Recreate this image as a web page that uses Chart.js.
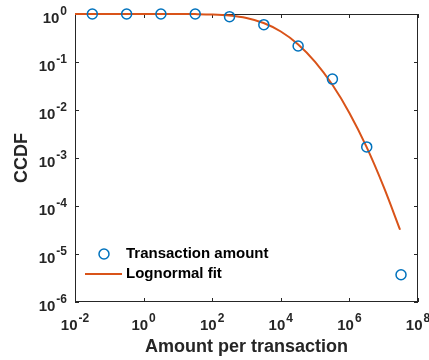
<!DOCTYPE html>
<html>
<head>
<meta charset="utf-8">
<script src="https://cdn.jsdelivr.net/npm/chart.js@4.4.0/dist/chart.umd.min.js"></script>
<style>
  body { margin: 0; background: #fff; }
  canvas { display: block; }
</style>
</head>
<body>
<canvas id="grafico" width="429" height="360"></canvas>
<script>
// datos
const amount = [0.032, 0.32, 3.2, 32, 320, 3200, 32000, 320000, 3200000, 32000000];
const ccdf = [1, 1, 1, 1, 0.88, 0.6, 0.215, 0.044, 0.0017, 3.7e-6];

const fitAmount = [0.01, 0.1, 1, 10, 31.6, 100, 316, 1000, 3160, 10000, 31600, 100000, 316000, 1000000, 3160000, 10000000, 30000000];
const fitCcdf = [1, 1, 1, 0.999, 0.995, 0.979, 0.931, 0.825, 0.648, 0.432, 0.235, 0.101, 0.0339, 0.0087, 0.0017, 0.00025, 0.000032];

const xTickExp = [-2, 0, 2, 4, 6, 8];
const yTickExp = [0, -1, -2, -3, -4, -5, -6];

const legendLabels = ["Transaction amount", "Lognormal fit"];
const xTitle = "Amount per transaction";
const yTitle = "CCDF";

const azul = "#0072BD";
const naranja = "#D95319";
const ejes = "#262626";
const fuente = "'Liberation Sans', Arial, sans-serif";

// dibuja "10" con exponente
function potencia(ctx, exp, x, yBase, align) {
  ctx.font = "bold 15px " + fuente;
  const wb = ctx.measureText("10").width;
  ctx.font = "bold 12px " + fuente;
  const e = String(exp);
  const we = ctx.measureText(e).width;
  const total = wb + 1 + we;
  let x0 = x;
  if (align === "right") x0 = x - total;
  if (align === "center") x0 = x - total / 2;
  ctx.textAlign = "left";
  ctx.textBaseline = "alphabetic";
  ctx.font = "bold 15px " + fuente;
  ctx.fillText("10", x0, yBase);
  ctx.font = "bold 12px " + fuente;
  ctx.fillText(e, x0 + wb + 1, yBase - 8);
}

const cajaEjes = {
  id: "cajaEjes",
  beforeDatasetsDraw(chart) {
    const { ctx, chartArea: a, scales } = chart;
    ctx.save();
    ctx.strokeStyle = ejes;
    ctx.lineWidth = 1;
    ctx.strokeRect(a.left + 0.5, a.top + 0.5, a.right - a.left - 1, a.bottom - a.top - 1);
    ctx.beginPath();
    xTickExp.forEach(function (e) {
      const px = Math.round(scales.x.getPixelForValue(Math.pow(10, e))) + 0.5;
      ctx.moveTo(px, a.bottom);
      ctx.lineTo(px, a.bottom - 4);
      ctx.moveTo(px, a.top);
      ctx.lineTo(px, a.top + 4);
    });
    yTickExp.forEach(function (e) {
      const py = Math.round(scales.y.getPixelForValue(Math.pow(10, e))) + 0.5;
      ctx.moveTo(a.left, py);
      ctx.lineTo(a.left + 4, py);
      ctx.moveTo(a.right, py);
      ctx.lineTo(a.right - 4, py);
    });
    ctx.stroke();
    ctx.restore();
  },
  afterDraw(chart) {
    const { ctx, chartArea: a, scales } = chart;
    ctx.save();
    ctx.fillStyle = ejes;
    xTickExp.forEach(function (e) {
      const px = scales.x.getPixelForValue(Math.pow(10, e));
      potencia(ctx, e, px, a.bottom + 28, "center");
    });
    yTickExp.forEach(function (e) {
      const py = scales.y.getPixelForValue(Math.pow(10, e));
      potencia(ctx, e, a.left - 8, py + 9, "right");
    });

    // titulos
    ctx.fillStyle = ejes;
    ctx.font = "bold 18px " + fuente;
    ctx.textAlign = "center";
    ctx.textBaseline = "alphabetic";
    ctx.fillText(xTitle, (a.left + a.right) / 2, 352);
    ctx.save();
    ctx.translate(27, (a.top + a.bottom) / 2);
    ctx.rotate(-Math.PI / 2);
    ctx.fillText(yTitle, 0, 0);
    ctx.restore();

    // leyenda
    ctx.lineWidth = 1.5;
    ctx.strokeStyle = azul;
    ctx.beginPath();
    ctx.arc(104, 254, 5, 0, Math.PI * 2);
    ctx.stroke();
    ctx.strokeStyle = naranja;
    ctx.lineWidth = 2;
    ctx.beginPath();
    ctx.moveTo(85, 274);
    ctx.lineTo(122, 274);
    ctx.stroke();
    ctx.fillStyle = "#000";
    ctx.font = "bold 15px " + fuente;
    ctx.textAlign = "left";
    ctx.textBaseline = "middle";
    ctx.fillText(legendLabels[0], 126, 254);
    ctx.fillText(legendLabels[1], 126, 274);
    ctx.restore();
  }
};

window.onload = function () {
  const ctx = document.getElementById("grafico").getContext("2d");
  new Chart(ctx, {
    type: "scatter",
    data: {
      datasets: [
        {
          label: legendLabels[0],
          data: amount.map(function (v, i) { return { x: v, y: ccdf[i] }; }),
          pointStyle: "circle",
          pointRadius: 5,
          pointBorderWidth: 1.5,
          pointBorderColor: azul,
          pointBackgroundColor: "rgba(0,0,0,0)",
          showLine: false,
          clip: false,
          order: 0,
        },
        {
          label: legendLabels[1],
          data: fitAmount.map(function (v, i) { return { x: v, y: fitCcdf[i] }; }),
          showLine: true,
          borderColor: naranja,
          borderWidth: 2,
          pointRadius: 0,
          cubicInterpolationMode: "monotone",
          clip: false,
          order: 1,
        },
      ],
    },
    options: {
      responsive: false,
      animation: false,
      devicePixelRatio: 1,
      layout: { padding: { left: 75, right: 11, top: 14, bottom: 58 } },
      plugins: { legend: { display: false }, tooltip: { enabled: false } },
      scales: {
        x: { type: "logarithmic", min: 0.01, max: 1e8, display: false },
        y: { type: "logarithmic", min: 1e-6, max: 1, display: false },
      },
    },
    plugins: [cajaEjes],
  });
};
</script>
</body>
</html>
